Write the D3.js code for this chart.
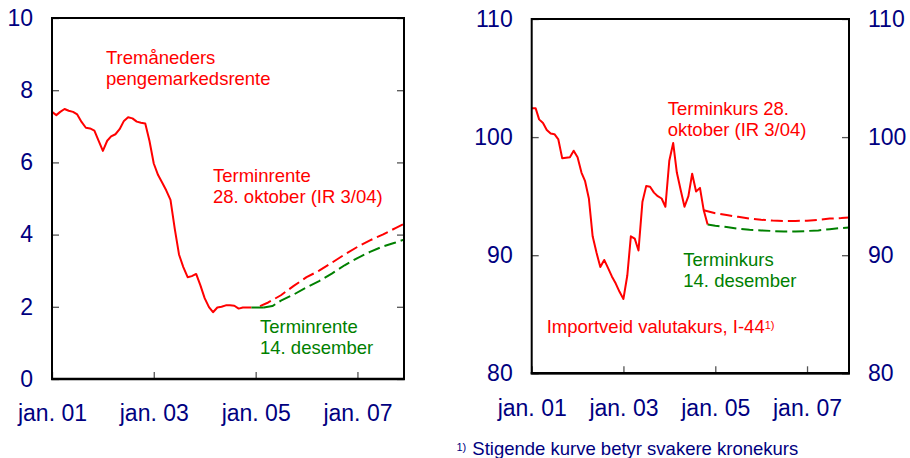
<!DOCTYPE html>
<html>
<head>
<meta charset="utf-8">
<script src="https://cdn.jsdelivr.net/npm/d3@7"></script>
<style>
  body { margin: 0; background: #fff; }
  svg { display: block; }
  text { font-family: "Liberation Sans", Arial, sans-serif; }
</style>
</head>
<body>
<div id="chart"></div>
<script>
// --- Data ---

// tick labels on the time axis
const xTickDates = ["2001-01", "2003-01", "2005-01", "2007-01"];
const xDomain = ["2001-01", "2007-12"];

// left panel: three-month money market rate, monthly from jan. 01
const rateHist = [
  7.40, 7.31, 7.40, 7.48, 7.43, 7.40, 7.33, 7.12, 6.96, 6.94, 6.88, 6.60,
  6.32, 6.60, 6.72, 6.78, 6.92, 7.15, 7.25, 7.22, 7.13, 7.10, 7.08, 6.60,
  5.97, 5.65, 5.45, 5.22, 4.96, 4.15, 3.45, 3.10, 2.82, 2.85, 2.91, 2.60,
  2.24, 1.99, 1.85, 1.98, 2.00, 2.04, 2.04, 2.03, 1.95, 1.98, 1.98, 1.98
];
// forward rate 28. oktober (IR 3/04)
const rateFwdOct = [
  ["2005-02", 2.02], ["2005-04", 2.12], ["2005-07", 2.32],
  ["2005-10", 2.58], ["2006-01", 2.82], ["2006-04", 3.00], ["2006-07", 3.22],
  ["2006-10", 3.45], ["2007-01", 3.66], ["2007-04", 3.84], ["2007-07", 4.00],
  ["2007-10", 4.18], ["2007-12", 4.30]
];
// actual rate up to 14. desember
const rateDec = [["2004-12", 1.98], ["2005-03", 1.98]];
// forward rate 14. desember
const rateFwdDec = [
  ["2005-03", 1.98], ["2005-05", 2.02], ["2005-07", 2.17], ["2005-10", 2.34],
  ["2006-01", 2.54], ["2006-04", 2.71], ["2006-07", 2.92], ["2006-10", 3.15],
  ["2007-01", 3.35], ["2007-04", 3.52], ["2007-07", 3.67], ["2007-10", 3.78],
  ["2007-12", 3.86]
];

// right panel: import-weighted exchange rate I-44, monthly from jan. 01
const fxHist = [
  102.45, 102.45, 101.5, 101.2, 100.6, 100.3, 100.25, 99.8, 98.2, 98.25, 98.3, 98.85,
  98.3, 97.0, 96.3, 94.8, 91.6, 90.2, 89.0, 89.6, 88.9, 88.2, 87.6, 86.9,
  86.3, 88.3, 91.6, 91.4, 90.4, 94.5, 95.85, 95.8, 95.3, 95.0, 94.8, 94.1,
  98.0, 99.5, 97.0, 95.5, 94.1, 95.0, 96.9, 95.4, 95.7, 93.8, 92.6
];
// forward exchange rate 28. oktober (IR 3/04)
const fxFwdOct = [
  ["2004-10", 93.8], ["2005-01", 93.55], ["2005-04", 93.4], ["2005-07", 93.25],
  ["2005-10", 93.1], ["2006-01", 93.0], ["2006-04", 92.93], ["2006-07", 92.9],
  ["2006-10", 92.9], ["2007-01", 92.92], ["2007-04", 93.0], ["2007-07", 93.1],
  ["2007-10", 93.15], ["2007-12", 93.2]
];
// forward exchange rate 14. desember
const fxFwdDec = [
  ["2004-11", 92.6], ["2005-01", 92.5], ["2005-04", 92.38], ["2005-07", 92.25],
  ["2005-10", 92.15], ["2006-01", 92.1], ["2006-04", 92.05], ["2006-07", 92.0],
  ["2006-10", 92.0], ["2007-01", 92.05], ["2007-04", 92.1], ["2007-07", 92.2],
  ["2007-10", 92.3], ["2007-12", 92.35]
];

const rateTicks = [0, 2, 4, 6, 8, 10];
const fxTicks = [80, 90, 100, 110];

// --- D3 Code ---

const w = 910;
const h = 458;
const red = "#ff0000";
const green = "#008000";
const navy = "#000080";
const axisFont = "23px";
const noteFont = "18.5px";

const parseMonth = d3.timeParse("%Y-%m");
const start = parseMonth("2001-01");

const monthly = function (values) {
  return values.map(function (v, i) { return [d3.timeMonth.offset(start, i), v]; });
};
const pairs = function (list) {
  return list.map(function (d) { return [parseMonth(d[0]), d[1]]; });
};

const svg = d3.select("#chart")
  .append("svg")
  .attr("width", w)
  .attr("height", h);

svg.append("rect").attr("width", w).attr("height", h).attr("fill", "#fff");

function panel(opt) {
  const x = d3.scaleTime()
    .domain(xDomain.map(parseMonth))
    .range([opt.left, opt.right]);
  const y = d3.scaleLinear()
    .domain(opt.yDomain)
    .range([opt.bottom, opt.top]);

  const g = svg.append("g");

  // axes with inward ticks
  const xAxis = d3.axisBottom(x)
    .tickValues(xTickDates.map(parseMonth))
    .tickFormat(function (d) { return "jan. " + d3.timeFormat("%y")(d); })
    .tickSizeInner(-7).tickSizeOuter(0).tickPadding(26);
  const yLeft = d3.axisLeft(y)
    .tickValues(opt.ticks)
    .tickSizeInner(-7).tickSizeOuter(0).tickPadding(19);

  const axes = [
    g.append("g").attr("transform", "translate(0," + opt.bottom + ")").call(xAxis),
    g.append("g").attr("transform", "translate(" + opt.left + ",0)").call(yLeft)
  ];
  const yRight = d3.axisRight(y)
    .tickValues(opt.ticks)
    .tickSizeInner(-7).tickSizeOuter(0).tickPadding(19);
  const ra = g.append("g").attr("transform", "translate(" + opt.right + ",0)").call(yRight);
  if (!opt.rightLabels) ra.selectAll("text").remove();
  axes.push(ra);

  axes.forEach(function (a) {
    a.select(".domain").remove();
    a.selectAll(".tick line").attr("stroke", "#555").attr("stroke-width", 1.3);
    a.selectAll("text")
      .attr("fill", navy)
      .style("font-size", axisFont)
      .style("font-family", "'Liberation Sans', Arial, sans-serif");
  });

  const line = d3.line()
    .x(function (d) { return x(d[0]); })
    .y(function (d) { return y(d[1]); });

  opt.series.forEach(function (s) {
    g.append("path")
      .datum(s.data)
      .attr("d", line)
      .attr("fill", "none")
      .attr("stroke", s.color)
      .attr("stroke-width", 2)
      .attr("stroke-linejoin", "round")
      .attr("stroke-dasharray", s.dash ? "12,5" : null);
  });

  // frame
  g.append("rect")
    .attr("x", opt.left).attr("y", opt.top)
    .attr("width", opt.right - opt.left)
    .attr("height", opt.bottom - opt.top)
    .attr("fill", "none").attr("stroke", "#000").attr("stroke-width", 2);
  g.append("line")
    .attr("x1", opt.left - 1).attr("x2", opt.right + 1)
    .attr("y1", opt.bottom).attr("y2", opt.bottom)
    .attr("stroke", "#000").attr("stroke-width", 2.5);

  return g;
}

function note(g, x, y, lines, color) {
  const t = g.append("text")
    .attr("x", x).attr("y", y)
    .attr("fill", color)
    .style("font-size", noteFont);
  lines.forEach(function (s, i) {
    t.append("tspan").attr("x", x).attr("dy", i === 0 ? 0 : 21).text(s);
  });
  return t;
}

// Left panel
const left = panel({
  left: 52, right: 404, top: 18, bottom: 379,
  yDomain: [0, 10], ticks: rateTicks, rightLabels: false,
  series: [
    { data: pairs(rateFwdOct), color: red, dash: true },
    { data: pairs(rateFwdDec), color: green, dash: true },
    { data: monthly(rateHist), color: red, dash: false },
    { data: pairs(rateDec), color: green, dash: false }
  ]
});
note(left, 106, 64, ["Tremåneders", "pengemarkedsrente"], red);
note(left, 213, 182, ["Terminrente", "28. oktober (IR 3/04)"], red);
note(left, 260, 333, ["Terminrente", "14. desember"], green);

// Right panel
const right = panel({
  left: 531.7, right: 849, top: 19, bottom: 373.3,
  yDomain: [80, 110], ticks: fxTicks, rightLabels: true,
  series: [
    { data: pairs(fxFwdOct), color: red, dash: true },
    { data: pairs(fxFwdDec), color: green, dash: true },
    { data: monthly(fxHist), color: red, dash: false }
  ]
});
note(right, 667.7, 115, ["Terminkurs 28.", "oktober (IR 3/04)"], red);
note(right, 683.3, 266, ["Terminkurs", "14. desember"], green);
const imp = note(right, 546.7, 333, ["Importveid valutakurs, I-44"], red);
imp.append("tspan").attr("dy", -4).style("font-size", "11px").text("1)");

// Footnote
const foot = svg.append("text")
  .attr("x", 456.5).attr("y", 455)
  .attr("fill", navy)
  .style("font-size", noteFont);
foot.append("tspan").attr("dy", -4).style("font-size", "11px").text("1)");
foot.append("tspan").attr("x", 472.3).attr("dy", 4).text("Stigende kurve betyr svakere kronekurs");
</script>
</body>
</html>
